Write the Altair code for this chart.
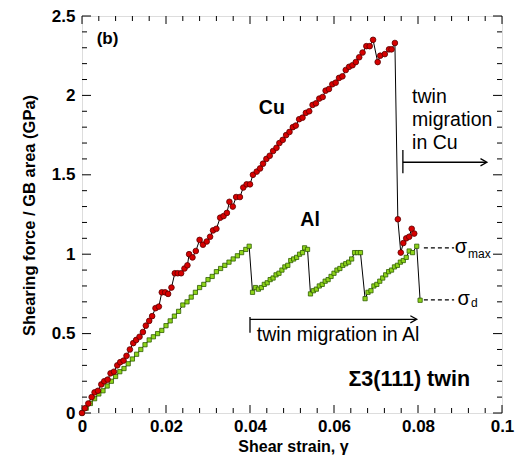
import altair as alt
import pandas as pd

# ---------------- data ----------------
cu_x = [0.0000, 0.0007, 0.0015, 0.0023, 0.0030, 0.0038, 0.0046, 0.0053, 0.0061, 0.0068,
        0.0076, 0.0084, 0.0091, 0.0099, 0.0106, 0.0114, 0.0122, 0.0129, 0.0137, 0.0145,
        0.0152, 0.0160, 0.0167, 0.0175, 0.0183, 0.0190, 0.0198, 0.0205, 0.0213, 0.0221,
        0.0228, 0.0236, 0.0244, 0.0251, 0.0255, 0.0263, 0.0271, 0.0280, 0.0288, 0.0297,
        0.0305, 0.0312, 0.0320, 0.0329, 0.0337, 0.0345, 0.0351, 0.0359, 0.0367, 0.0376,
        0.0384, 0.0392, 0.0400, 0.0407, 0.0416, 0.0424, 0.0431, 0.0439, 0.0447, 0.0455,
        0.0463, 0.0470, 0.0478, 0.0486, 0.0494, 0.0502, 0.0509, 0.0517, 0.0525, 0.0533,
        0.0541, 0.0549, 0.0557, 0.0565, 0.0573, 0.0580, 0.0588, 0.0596, 0.0604, 0.0612,
        0.0620, 0.0628, 0.0636, 0.0644, 0.0652, 0.0660, 0.0668, 0.0677, 0.0685, 0.0693,
        0.0704, 0.0710, 0.0721, 0.0731, 0.0737, 0.0745, 0.0752, 0.0759, 0.0765, 0.0772,
        0.0779, 0.0785, 0.0791]
cu_y = [0.00, 0.03, 0.06, 0.10, 0.13, 0.14, 0.18, 0.20, 0.21, 0.25,
        0.26, 0.30, 0.32, 0.33, 0.36, 0.40, 0.44, 0.46, 0.48, 0.51,
        0.55, 0.58, 0.61, 0.66, 0.67, 0.76, 0.76, 0.75, 0.79, 0.88,
        0.88, 0.88, 0.91, 0.93, 1.00, 0.98, 1.02, 1.09, 1.06, 1.08,
        1.11, 1.15, 1.16, 1.23, 1.24, 1.26, 1.33, 1.30, 1.36, 1.36,
        1.42, 1.44, 1.44, 1.50, 1.52, 1.54, 1.57, 1.60, 1.62, 1.65,
        1.67, 1.70, 1.72, 1.75, 1.77, 1.80, 1.81, 1.85, 1.86, 1.89,
        1.90, 1.94, 1.95, 1.98, 1.99, 2.03, 2.04, 2.07, 2.08, 2.11,
        2.12, 2.16, 2.18, 2.19, 2.21, 2.24, 2.27, 2.31, 2.31, 2.35,
        2.21, 2.25, 2.26, 2.29, 2.29, 2.33, 1.22, 1.01, 1.07, 1.10,
        1.11, 1.16, 1.13]

al_x = [0.000, 0.001, 0.002, 0.003, 0.004, 0.005, 0.006, 0.007, 0.008, 0.009,
        0.010, 0.011, 0.012, 0.013, 0.014, 0.015, 0.016, 0.017, 0.018, 0.019,
        0.020, 0.021, 0.022, 0.023, 0.024, 0.025, 0.026, 0.027, 0.028, 0.029,
        0.030, 0.031, 0.032, 0.033, 0.034, 0.035, 0.036, 0.037, 0.038, 0.039,
        0.0398,
        0.0406, 0.0413, 0.0420, 0.0427, 0.0434, 0.0441, 0.0448, 0.0455, 0.0462, 0.0469,
        0.0476, 0.0483, 0.0490, 0.0497, 0.0504, 0.0511, 0.0518, 0.0525, 0.0530, 0.0537,
        0.0544, 0.0551, 0.0558, 0.0565, 0.0572, 0.0579, 0.0586, 0.0593, 0.0600, 0.0607,
        0.0614, 0.0621, 0.0628, 0.0635, 0.0642, 0.0649, 0.0656, 0.0663,
        0.0674, 0.0681, 0.0688, 0.0695, 0.0702, 0.0709, 0.0716, 0.0723, 0.0730, 0.0737,
        0.0744, 0.0751, 0.0758, 0.0765, 0.0772, 0.0779, 0.0787, 0.0797, 0.0805]
al_y = [0.00, 0.03, 0.06, 0.09, 0.12, 0.14, 0.17, 0.20, 0.23, 0.26,
        0.28, 0.31, 0.34, 0.37, 0.40, 0.43, 0.46, 0.48, 0.50, 0.52,
        0.55, 0.58, 0.61, 0.64, 0.68, 0.70, 0.73, 0.76, 0.79, 0.81,
        0.84, 0.86, 0.89, 0.91, 0.93, 0.95, 0.97, 0.99, 1.01, 1.03,
        1.05,
        0.76, 0.79, 0.78, 0.79, 0.81, 0.82, 0.84, 0.85, 0.87, 0.88,
        0.90, 0.92, 0.93, 0.96, 0.97, 0.98, 1.00, 1.01, 1.04, 1.03,
        0.75, 0.77, 0.78, 0.80, 0.81, 0.83, 0.84, 0.86, 0.88, 0.90,
        0.91, 0.93, 0.94, 0.95, 0.97, 1.01, 1.01, 1.01,
        0.72, 0.76, 0.77, 0.80, 0.81, 0.83, 0.85, 0.87, 0.89, 0.90,
        0.92, 0.93, 0.95, 0.96, 0.98, 1.02, 1.01, 1.05, 0.71]

x_major = [0, 0.02, 0.04, 0.06, 0.08, 0.1]
x_minor = [0.004, 0.008, 0.012, 0.016, 0.024, 0.028, 0.032, 0.036,
           0.044, 0.048, 0.052, 0.056, 0.064, 0.068, 0.072, 0.076,
           0.084, 0.088, 0.092, 0.096]
y_major = [0, 0.5, 1, 1.5, 2, 2.5]
y_minor = [0.1, 0.2, 0.3, 0.4, 0.6, 0.7, 0.8, 0.9, 1.1, 1.2, 1.3, 1.4,
           1.6, 1.7, 1.8, 1.9, 2.1, 2.2, 2.3, 2.4]

# annotation segments (x1, y1, x2, y2) in data units
seg_solid = [
    (0.0764, 1.510, 0.0764, 1.656),   # Cu bar
    (0.0764, 1.579, 0.0962, 1.579),   # Cu arrow
    (0.0400, 0.505, 0.0400, 0.605),   # Al bar
    (0.0400, 0.590, 0.0795, 0.590),   # Al arrow
]
seg_dash = [
    (0.0814, 1.040, 0.0886, 1.040),   # sigma max
    (0.0814, 0.712, 0.0886, 0.712),   # sigma d
]
arrow_heads = [(0.0964, 1.579), (0.0797, 0.590)]

W, H = 420, 397
FONT = "Liberation Sans"

xs = alt.Scale(domain=[0, 0.1], nice=False, zero=False)
ys = alt.Scale(domain=[0, 2.5], nice=False, zero=False)

xaxis = alt.Axis(values=x_major, format="~g", ticks=False, domain=False, grid=False,
                 labelFont=FONT, labelFontWeight="bold", labelFontSize=17,
                 labelColor="black", labelPadding=5, labelFlush=False, labelOverlap=False,
                 title="Shear strain, γ", titleFont=FONT, titleFontWeight="bold",
                 titleFontSize=16, titleColor="black", titleX=211, titleY=33,
                 titleAlign="center", titleBaseline="middle")
yaxis = alt.Axis(values=y_major, format="~g", ticks=False, domain=False, grid=False,
                 labelFont=FONT, labelFontWeight="bold", labelFontSize=17,
                 labelColor="black", labelPadding=7, labelFlush=False, labelOverlap=False,
                 title="Shearing force / GB area (GPa)", titleFont=FONT,
                 titleFontWeight="bold", titleFontSize=16.5, titleColor="black",
                 titleX=-53, titleY=199, titleAngle=-90,
                 titleAlign="center", titleBaseline="middle")


def X(f="x"):
    return alt.X(f"{f}:Q", scale=xs, axis=xaxis)


def Y(f="y"):
    return alt.Y(f"{f}:Q", scale=ys, axis=yaxis)


def XD(v):
    return alt.XDatum(v, scale=xs, axis=xaxis)


def YD(v):
    return alt.YDatum(v, scale=ys, axis=yaxis)


cu = pd.DataFrame({"x": cu_x, "y": cu_y, "i": list(range(len(cu_x)))})
al = pd.DataFrame({"x": al_x, "y": al_y, "i": list(range(len(al_x)))})

layers = []


def xticks(vals, ln):
    d = pd.DataFrame({"x": vals})
    b = alt.Chart(d).mark_rule(color="black", strokeWidth=1).encode(
        x=X(), y=alt.value(H), y2=alt.value(H - ln))
    t = alt.Chart(d).mark_rule(color="black", strokeWidth=1).encode(
        x=X(), y=alt.value(0), y2=alt.value(ln))
    return [b, t]


def yticks(vals, ln):
    d = pd.DataFrame({"y": vals})
    l = alt.Chart(d).mark_rule(color="black", strokeWidth=1).encode(
        y=Y(), x=alt.value(0), x2=alt.value(ln))
    r = alt.Chart(d).mark_rule(color="black", strokeWidth=1).encode(
        y=Y(), x=alt.value(W), x2=alt.value(W - ln))
    return [l, r]


layers += xticks(x_major, 8) + xticks(x_minor, 5) + yticks(y_major, 9) + yticks(y_minor, 5)

# lines
layers.append(alt.Chart(al).mark_line(color="black", strokeWidth=1).encode(
    x=X(), y=Y(), order="i:Q"))
layers.append(alt.Chart(cu).mark_line(color="black", strokeWidth=1).encode(
    x=X(), y=Y(), order="i:Q"))

# points
layers.append(alt.Chart(al).mark_point(shape="square", filled=True, size=18,
                                       fill="#8ed41a", stroke="#2e5e00",
                                       strokeWidth=0.8, opacity=1).encode(x=X(), y=Y()))
layers.append(alt.Chart(cu).mark_point(shape="circle", filled=True, size=32,
                                       fill="#d60000", stroke="#5a0000",
                                       strokeWidth=0.8, opacity=1).encode(x=X(), y=Y()))

# annotation segments
sdf = pd.DataFrame(seg_solid, columns=["x", "y", "x2", "y2"])
ddf = pd.DataFrame(seg_dash, columns=["x", "y", "x2", "y2"])
layers.append(alt.Chart(sdf).mark_rule(color="black", strokeWidth=1.3).encode(
    x=X(), y=Y(), x2="x2:Q", y2="y2:Q"))
layers.append(alt.Chart(ddf).mark_rule(color="black", strokeWidth=1.2, strokeDash=[4, 3]).encode(
    x=X(), y=Y(), x2="x2:Q", y2="y2:Q"))
adf = pd.DataFrame(arrow_heads, columns=["x", "y"])
layers.append(alt.Chart(adf).mark_point(shape="M-1.6,-0.9L0,0L-1.6,0.9", filled=False,
                                        size=64, stroke="black", strokeWidth=1.3,
                                        opacity=1).encode(x=X(), y=Y()))


def txt(s, x, y, size, weight="normal", align="left", font=FONT):
    return alt.Chart(pd.DataFrame({"t": [s]})).mark_text(
        text=s, font=font, fontSize=size, fontWeight=weight, align=align,
        baseline="middle", color="black").encode(x=XD(x), y=YD(y))


layers += [
    txt("(b)", 0.0035, 2.358, 17, "bold"),
    txt("Cu", 0.0452, 1.92, 19.5, "bold", "center"),
    txt("Al", 0.0543, 1.215, 19.5, "bold", "center"),
    txt("twin", 0.0786, 1.99, 19.5),
    txt("migration", 0.0786, 1.845, 19.5),
    txt("in Cu", 0.0786, 1.70, 19.5),
    txt("twin migration in Al", 0.0416, 0.491, 19.5),
    txt("Σ3(111) twin", 0.0924, 0.208, 21.5, "bold", "right"),
    txt("σ", 0.0902, 1.045, 20, "normal", "center"),
    txt("max", 0.0919, 1.004, 12),
    txt("σ", 0.0909, 0.716, 20, "normal", "center"),
    txt("d", 0.0926, 0.690, 12),
]

chart = alt.layer(*layers).properties(
    width=W, height=H,
    autosize=alt.AutoSizeParams(type="none"),
    padding={"left": 82, "top": 16, "right": 15, "bottom": 45},
).configure_view(stroke="black", strokeWidth=1.5).configure(background="white")

chart.save("out.html", embed_options={"renderer": "svg", "actions": False})
